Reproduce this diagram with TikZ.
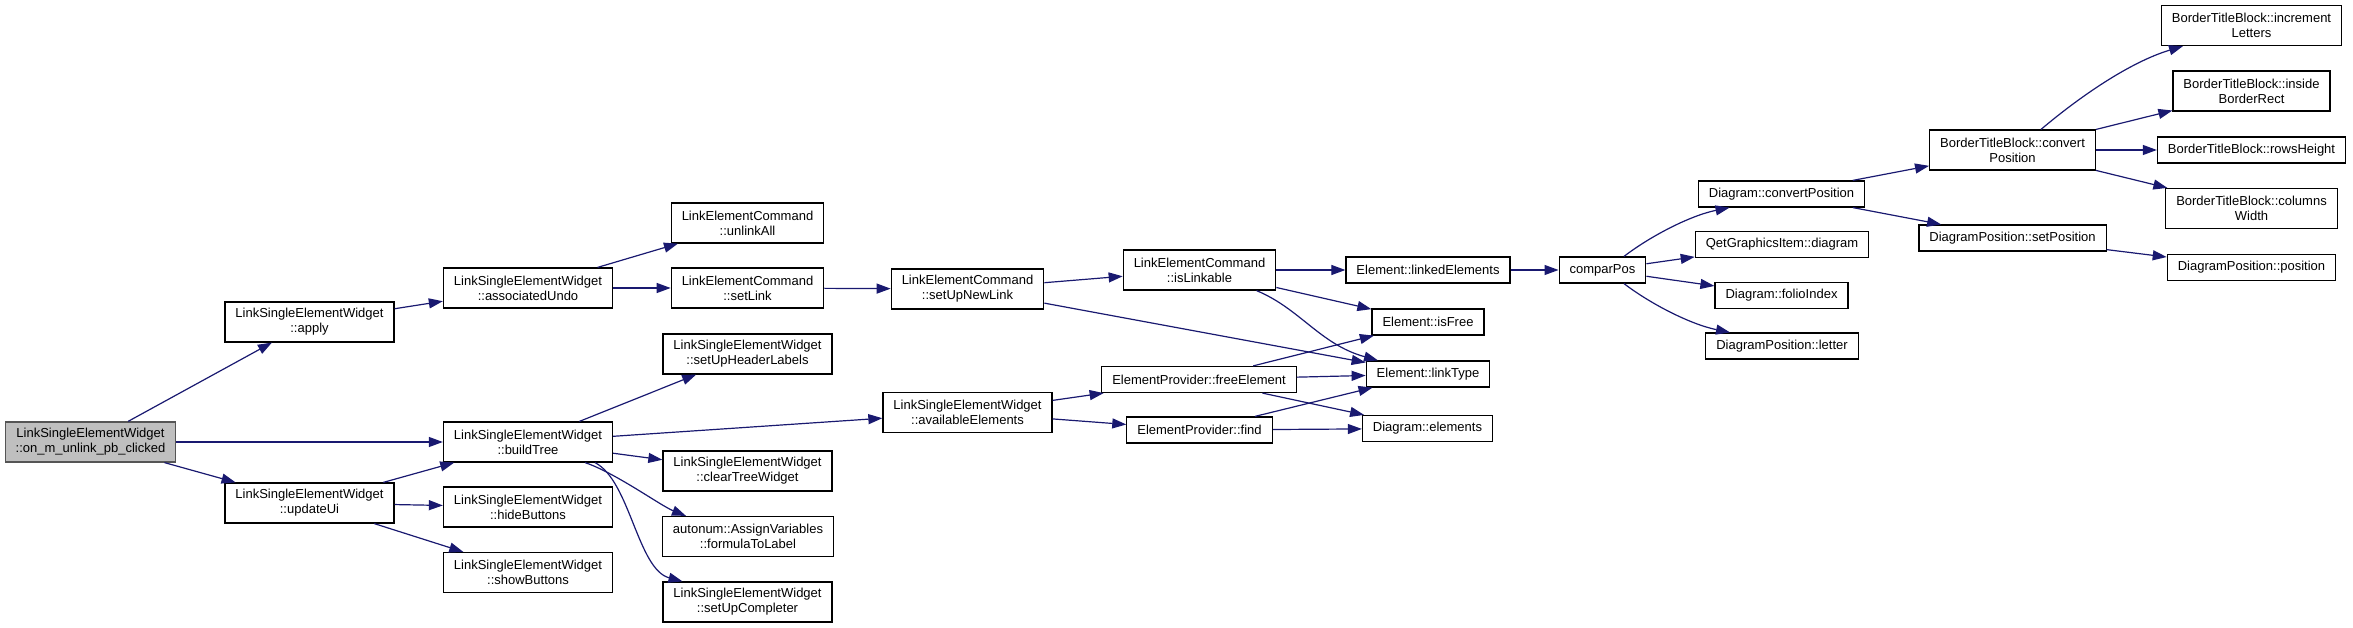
\documentclass[tikz,border=0pt]{standalone}
\usepackage{fontspec}
\setmainfont{Liberation Sans}
\usetikzlibrary{arrows.meta,positioning,calc}
\definecolor{edge}{HTML}{191970}
\definecolor{rootfill}{HTML}{BFBFBF}
\definecolor{rootline}{HTML}{555555}
\tikzset{
  fn/.style={draw=black, rectangle, line width=1.2pt, minimum height=26pt, align=center, inner xsep=10.5pt, inner ysep=2pt, font=\fontsize{13}{15}\selectfont},
  fn2/.style={fn, minimum height=40pt},
  root/.style={fn2, fill=rootfill, draw=rootline},
  arr/.style={-{Triangle[length=14pt,width=10pt]}, line width=1.2pt, color=edge}
}
\begin{document}
\begin{tikzpicture}[x=1pt,y=1pt]
\useasboundingbox (0,0) rectangle (2353,-628);
\node[root] (click) at (90.5,-442) {LinkSingleElementWidget\\::on\_m\_unlink\_pb\_clicked};
\node[fn2] (apply) at (309.5,-322) {LinkSingleElementWidget\\::apply};
\node[fn2] (ui) at (309.5,-503) {LinkSingleElementWidget\\::updateUi};
\node[fn2] (undo) at (528,-288) {LinkSingleElementWidget\\::associatedUndo};
\node[fn2] (build) at (528,-442) {LinkSingleElementWidget\\::buildTree};
\node[fn2] (hide) at (528,-507) {LinkSingleElementWidget\\::hideButtons};
\node[fn2] (show) at (528,-572.5) {LinkSingleElementWidget\\::showButtons};
\node[fn2] (unlink) at (747.5,-223) {LinkElementCommand\\::unlinkAll};
\node[fn2] (setlink) at (747.5,-288) {LinkElementCommand\\::setLink};
\node[fn2] (header) at (747.5,-354) {LinkSingleElementWidget\\::setUpHeaderLabels};
\node[fn2] (clear) at (747.5,-471) {LinkSingleElementWidget\\::clearTreeWidget};
\node[fn2] (formula) at (748,-536.5) {autonum::AssignVariables\\::formulaToLabel};
\node[fn2] (completer) at (747.5,-602) {LinkSingleElementWidget\\::setUpCompleter};
\node[fn2] (newlink) at (967.5,-289) {LinkElementCommand\\::setUpNewLink};
\node[fn2] (avail) at (967.5,-412.5) {LinkSingleElementWidget\\::availableElements};
\node[fn2] (islink) at (1199.5,-270) {LinkElementCommand\\::isLinkable};
\node[fn] (free) at (1199,-379.5) {ElementProvider::freeElement};
\node[fn] (find) at (1199.5,-430) {ElementProvider::find};
\node[fn] (linked) at (1428,-270) {Element::linkedElements};
\node[fn] (isfree) at (1428,-322) {Element::isFree};
\node[fn] (ltype) at (1428,-374) {Element::linkType};
\node[fn] (elems) at (1427.5,-428.5) {Diagram::elements};
\node[fn] (compar) at (1602.5,-270) {comparPos};
\node[fn] (dconv) at (1781.5,-194) {Diagram::convertPosition};
\node[fn] (qdiag) at (1782,-244.5) {QetGraphicsItem::diagram};
\node[fn] (folio) at (1781.5,-295.5) {Diagram::folioIndex};
\node[fn] (letter) at (1782,-346) {DiagramPosition::letter};
\node[fn2] (bconv) at (2012.5,-150) {BorderTitleBlock::convert\\Position};
\node[fn] (setpos) at (2012.5,-238) {DiagramPosition::setPosition};
\node[fn2] (incr) at (2251.5,-25.5) {BorderTitleBlock::increment\\Letters};
\node[fn2] (inside) at (2251.5,-91) {BorderTitleBlock::inside\\BorderRect};
\node[fn] (rows) at (2251.5,-150) {BorderTitleBlock::rowsHeight};
\node[fn2] (cols) at (2251.5,-208.5) {BorderTitleBlock::columns\\Width};
\node[fn] (pos) at (2251.5,-267.5) {DiagramPosition::position};
% straight calls
\foreach \s/\t in {click/apply,click/build,click/ui,apply/undo,ui/build,ui/hide,ui/show,undo/unlink,undo/setlink,setlink/newlink,build/header,build/avail,build/clear,newlink/islink,newlink/ltype,avail/free,avail/find,islink/linked,islink/isfree,free/isfree,free/ltype,free/elems,find/ltype,find/elems,linked/compar,compar/qdiag,compar/folio,dconv/bconv,dconv/setpos,bconv/inside,bconv/rows,bconv/cols,setpos/pos} \draw[arr] (\s) -- (\t);
% curved calls
\draw[arr] ([xshift=57pt]build.south) .. controls +(30,-10) and +(-25,10) .. ([xshift=-62pt]formula.north);
\draw[arr] ([xshift=67pt]build.south) .. controls +(35,-18) and +(-45,12) .. ([xshift=-65pt]completer.north);
\draw[arr] ([xshift=57pt]islink.south) .. controls +(43.5,-18) and +(-58,16) .. ([xshift=-50pt]ltype.north);
\draw[arr] ([xshift=21.5pt]compar.north) .. controls +(26,20) and +(-39.5,-8) .. ([xshift=-52pt]dconv.south);
\draw[arr] ([xshift=21.5pt]compar.south) .. controls +(26,-20) and +(-39.5,8) .. ([xshift=-52pt]letter.north);
\draw[arr] ([xshift=28.5pt]bconv.north) .. controls +(39,33) and +(-53,-16) .. ([xshift=-68.5pt]incr.south);
\end{tikzpicture}
\end{document}
